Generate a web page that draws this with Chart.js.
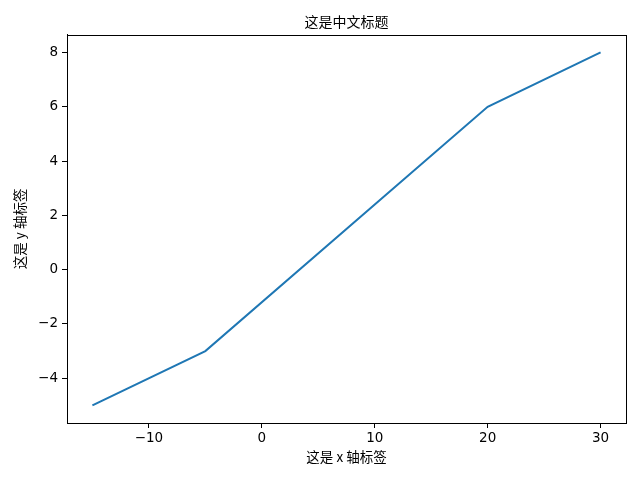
<!DOCTYPE html>
<html>
<head>
<meta charset="utf-8">
<script src="https://cdn.jsdelivr.net/npm/chart.js@4"></script>
<style>
  html, body { margin: 0; padding: 0; background: #fff; }
  #wrap { width: 640px; height: 480px; }
</style>
</head>
<body>
<div id="wrap"><canvas id="myChart" width="640" height="480"></canvas></div>
<script>
var xValues = [-15, -5, 20, 30];
var yValues = [-5, -3, 6, 8];
var xTicks = [-10, 0, 10, 20, 30];
var yTicks = [-4, -2, 0, 2, 4, 6, 8];

function fmt(v) {
    return v < 0 ? '\u2212' + Math.abs(v) : String(v);
}

var points = xValues.map(function (x, i) { return { x: x, y: yValues[i] }; });

// box round the plot area, like the matplotlib spines,
// and the title centred over the plot area rather than the canvas
var frame = {
    id: 'frame',
    afterLayout: function (chart) {
        var t = chart.titleBlock;
        if (t) {
            t.left = chart.chartArea.left;
            t.right = chart.chartArea.right;
        }
    },
    afterDraw: function (chart) {
        var a = chart.chartArea, ctx = chart.ctx;
        ctx.save();
        ctx.strokeStyle = '#000';
        ctx.lineWidth = 1;
        ctx.strokeRect(Math.round(a.left) + 0.5, Math.round(a.top) + 0.5,
            Math.round(a.right - a.left), Math.round(a.bottom - a.top));
        ctx.restore();
    }
};

new Chart('myChart', {
    type: 'line',
    data: {
        datasets: [{
            data: points,
            borderColor: '#1f77b4',
            borderWidth: 2,
            pointRadius: 0,
            tension: 0,
            fill: false
        }]
    },
    options: {
        responsive: false,
        animation: false,
        layout: { padding: { left: 0, right: 14, top: 0, bottom: 0 } },
        plugins: {
            legend: { display: false },
            tooltip: { enabled: false },
            title: {
                display: true,
                text: '这是中文标题',
                color: '#000',
                font: { family: '"Noto Sans CJK SC", sans-serif', size: 14, weight: 'normal' },
                padding: { top: 13, bottom: 5 }
            }
        },
        scales: {
            x: {
                type: 'linear',
                min: -17.25,
                max: 32.25,
                afterBuildTicks: function (s) { s.ticks = xTicks.map(function (v) { return { value: v }; }); },
                afterFit: function (s) { s.height = 57; },
                grid: { drawOnChartArea: false, tickLength: 5, color: '#000', tickWidth: 1 },
                border: { display: true, color: '#000' },
                ticks: {
                    color: '#000',
                    padding: 2,
                    maxRotation: 0,
                    font: { family: '"DejaVu Sans", sans-serif', size: 13.5 },
                    callback: function (v) { return fmt(v); }
                },
                title: {
                    display: true,
                    text: '这是 x 轴标签',
                    color: '#000',
                    font: { family: '"Noto Sans CJK SC", serif', size: 13.5 },
                    padding: { top: 0, bottom: 15 }
                }
            },
            y: {
                type: 'linear',
                min: -5.65,
                max: 8.65,
                afterBuildTicks: function (s) { s.ticks = yTicks.map(function (v) { return { value: v }; }); },
                afterFit: function (s) { s.width = 67; },
                grid: { drawOnChartArea: false, tickLength: 5, color: '#000', tickWidth: 1 },
                border: { display: true, color: '#000' },
                ticks: {
                    color: '#000',
                    padding: 4,
                    font: { family: '"DejaVu Sans", sans-serif', size: 13.5 },
                    callback: function (v) { return fmt(v); }
                },
                title: {
                    display: true,
                    text: '这是 y 轴标签',
                    color: '#000',
                    font: { family: '"Noto Sans CJK SC", sans-serif', size: 13.5 },
                    padding: { top: 12, bottom: 0 }
                }
            }
        }
    },
    plugins: [frame]
});
</script>
</body>
</html>
